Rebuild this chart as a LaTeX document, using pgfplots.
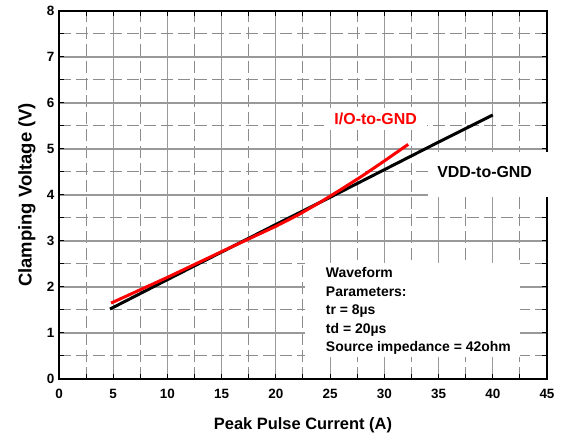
\documentclass[border=0pt]{standalone}
\usepackage{pgfplots}
\pgfplotsset{compat=1.18}
\usepackage{fontspec}
\setmainfont{Liberation Sans}
\begin{document}
\begin{tikzpicture}
\begin{axis}[
  scale only axis, width=488bp, height=368bp,
  xmin=0, xmax=45, ymin=0, ymax=8,
  xtick={0,5,...,45}, ytick={0,1,...,8},
  minor x tick num=1, minor y tick num=1,
  grid=both,
  major grid style={black!40, line width=1.2bp},
  minor grid style={black!45, dash pattern=on 12bp off 5bp, line width=1bp},
  tick align=inside, tick style={black, line width=1bp},
  major tick length=5bp, minor tick length=5bp,
  axis line style={line width=1.2bp},
  ticklabel style={font=\fontsize{13.5}{15}\selectfont\bfseries},
  xticklabel style={yshift=-7bp},
  yticklabel style={xshift=-1bp},
  /pgf/number format/assume math mode=true,
  xlabel={Peak Pulse Current (A)}, ylabel={Clamping Voltage (V)},
  xlabel style={font=\fontsize{16.5}{18}\selectfont\bfseries, at={(axis description cs:0.5,0)}, anchor=center, yshift=-46bp},
  ylabel style={font=\fontsize{18.5}{20}\selectfont\bfseries, at={(axis description cs:0,0.5)}, anchor=center, yshift=32bp},
  clip=false,
]
\addplot[black, line width=3bp] coordinates {
(4.7,1.52) (10,2.16) (15,2.76) (20,3.36) (25,3.95) (30,4.55) (35,5.15) (40,5.74)};
\addplot[red, line width=3bp] coordinates {
(4.8,1.65) (10,2.21) (15,2.77) (20,3.32) (22,3.56) (24,3.83) (26,4.12) (28,4.42) (30,4.74) (32.2,5.10)};
\node[fill=white, text=red, font=\fontsize{16}{18}\selectfont\bfseries, inner xsep=10bp, inner ysep=5bp] at (axis cs:29.2,5.66) {I/O-to-GND};
\fill[white] (axis cs:34,3.96) rectangle (axis cs:45.5,4.93);
\node[font=\fontsize{16}{18}\selectfont\bfseries] at (axis cs:39.25,4.5) {VDD-to-GND};
\fill[white] (axis cs:22.7,0.48) rectangle (axis cs:42.5,2.52);
\node[align=left, anchor=north west, font=\fontsize{14}{18.5}\selectfont\bfseries, inner sep=0pt] at (axis cs:24.6,2.42) {Waveform\\Parameters:\\tr = 8µs\\td = 20µs\\Source impedance = 42ohm};
\end{axis}
\path (current axis.south west) ++(-59bp,-59bp);
\path (current axis.north east) ++(16bp,11bp);
\end{tikzpicture}
\end{document}
